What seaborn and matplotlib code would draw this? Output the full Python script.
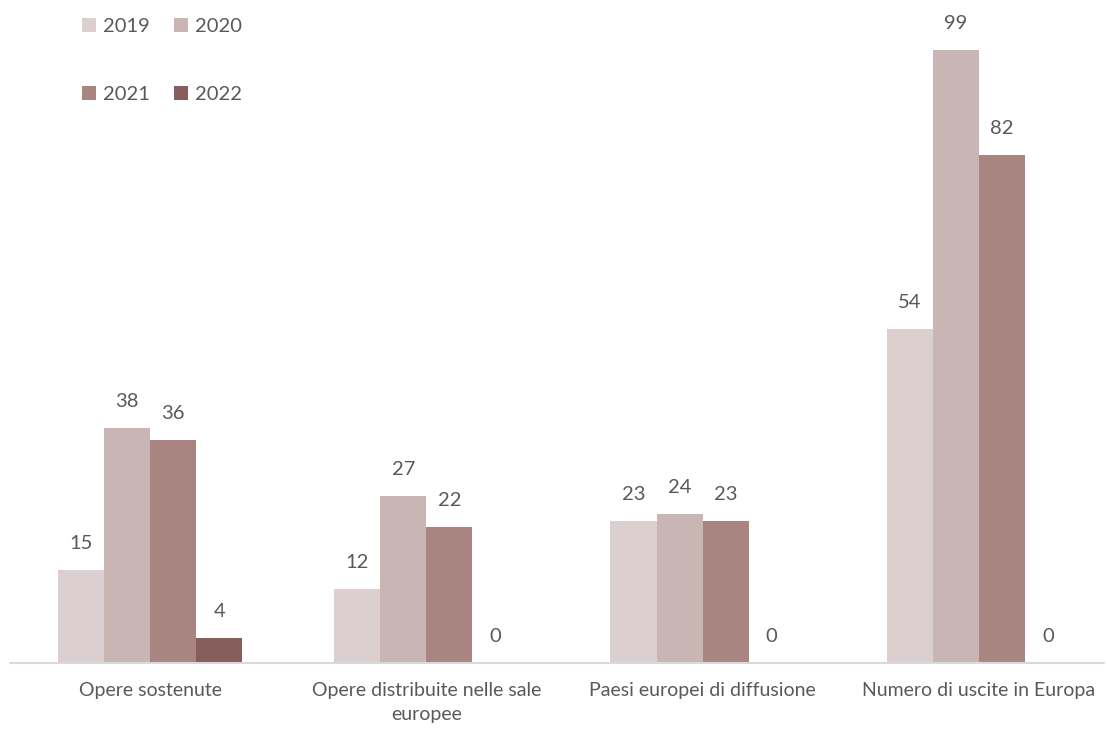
import numpy as np
import pandas as pd
import matplotlib.pyplot as plt
import seaborn as sns

# Data
categories = ["Opere sostenute", "Opere distribuite nelle sale\neuropee",
              "Paesi europei di diffusione", "Numero di uscite in Europa"]
years = ["2019", "2020", "2021", "2022"]
v2019 = [15, 12, 23, 54]
v2020 = [38, 27, 24, 99]
v2021 = [36, 22, 23, 82]
v2022 = [4, 0, 0, 0]
colors = ["#DCCFCF", "#C9B5B4", "#A98582", "#865E5C"]

df = pd.DataFrame({
    "categoria": categories * 4,
    "anno": np.repeat(years, len(categories)),
    "valore": v2019 + v2020 + v2021 + v2022,
})

sns.set_style("white")
plt.rcParams["font.family"] = ["Lato", "DejaVu Sans"]
text_col = "#595959"

fig = plt.figure(figsize=(11.07, 7.31), dpi=100)
ax = fig.add_axes([12 / 1107, (731 - 663) / 731, 1105 / 1107, 619 / 731])

sns.barplot(data=df, x="categoria", y="valore", hue="anno", palette=colors,
            width=0.667, saturation=1, linewidth=0, ax=ax, legend=True)

for cont in ax.containers:
    ax.bar_label(cont, padding=13, fontsize=14.5, color=text_col, clip_on=False)

ax.set_ylim(0, 100)
ax.set_xlabel("")
ax.set_ylabel("")
ax.set_yticks([])
for s in ["top", "left", "right"]:
    ax.spines[s].set_visible(False)
ax.spines["bottom"].set_visible(False)
# baseline, stopping short of the right edge like the original
ax.axhline(0, xmin=-2 / 1105, xmax=1092 / 1105, color="#D9D9D9", lw=1.5,
           clip_on=False)
ax.tick_params(axis="x", length=0, pad=14, labelsize=14, labelcolor=text_col)
for lbl in ax.get_xticklabels():
    lbl.set_linespacing(1.5)

# legend filled row by row: 2019 2020 / 2021 2022
handles, labels = ax.get_legend_handles_labels()
order = [0, 2, 1, 3]
ax.legend([handles[i] for i in order], [labels[i] for i in order],
          loc="upper left", bbox_to_anchor=(52 / 1105, 1.072), ncol=2,
          frameon=False, fontsize=14.5, labelcolor=text_col,
          handlelength=0.7, handleheight=0.7, handletextpad=0.35,
          columnspacing=1.2, labelspacing=2.55)

fig.savefig("out.png", dpi=100)
